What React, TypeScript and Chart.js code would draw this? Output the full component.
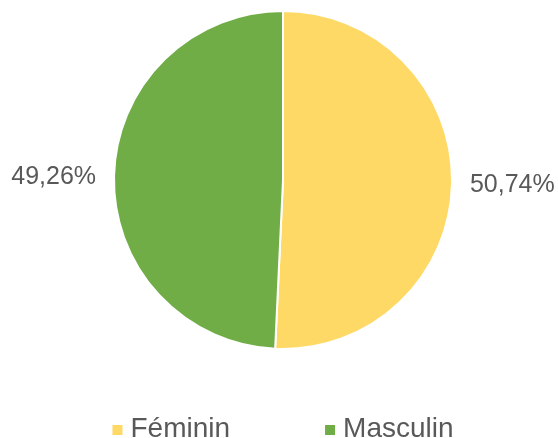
import React, { useEffect, useRef } from "react";
import { Chart, registerables } from "chart.js";

Chart.register(...registerables);

const categories = ["Féminin", "Masculin"];
const values = [50.74, 49.26];
const colors = ["#FFD966", "#70AD47"];

const TEXT_COLOR = "#595959";
const FONT = '"Liberation Sans", Arial, sans-serif';

const labelPlugin = {
  id: "outerLabels",
  afterDatasetsDraw(chart: any) {
    const ctx = chart.ctx;
    const meta = chart.getDatasetMeta(0);
    const data = chart.data.datasets[0].data as number[];
    ctx.save();
    ctx.font = `25px ${FONT}`;
    ctx.fillStyle = TEXT_COLOR;
    ctx.textBaseline = "middle";
    meta.data.forEach((arc: any, i: number) => {
      const p = arc.getProps(["x", "y", "startAngle", "endAngle", "outerRadius"], true);
      const mid = (p.startAngle + p.endAngle) / 2;
      const r = p.outerRadius + 18;
      const x = p.x + Math.cos(mid) * r;
      const y = p.y + Math.sin(mid) * r;
      ctx.textAlign = Math.cos(mid) >= 0 ? "left" : "right";
      const txt = data[i].toFixed(2).replace(".", ",") + "%";
      ctx.fillText(txt, x, y + 1);
    });
    ctx.restore();
  },
};

const legendPlugin = {
  id: "customLegend",
  afterDraw(chart: any) {
    const ctx = chart.ctx;
    const labels = chart.data.labels as string[];
    const bg = chart.data.datasets[0].backgroundColor as string[];
    const meta = chart.getDatasetMeta(0);
    const cx = meta.data[0] ? meta.data[0].x : chart.width / 2;
    ctx.save();
    ctx.font = `28px ${FONT}`;
    const box = 10;
    const boxGap = 8;
    const itemGap = 95;
    const widths = labels.map((l) => box + boxGap + ctx.measureText(l).width);
    const total = widths.reduce((a, b) => a + b, 0) + itemGap * (labels.length - 1);
    let x = cx - total / 2;
    const baseline = 437;
    labels.forEach((l, i) => {
      ctx.fillStyle = bg[i];
      ctx.fillRect(x, 425, box, box);
      ctx.fillStyle = TEXT_COLOR;
      ctx.textAlign = "left";
      ctx.textBaseline = "alphabetic";
      ctx.fillText(l, x + box + boxGap, baseline);
      x += widths[i] + itemGap;
    });
    ctx.restore();
  },
};

export default function App() {
  const ref = useRef<HTMLCanvasElement | null>(null);
  useEffect(() => {
    if (!ref.current) return;
    const chart = new Chart(ref.current, {
      type: "pie",
      data: {
        labels: categories,
        datasets: [
          {
            data: values,
            backgroundColor: colors,
            borderColor: "#FFFFFF",
            borderWidth: 2,
          },
        ],
      },
      options: {
        animation: false,
        responsive: true,
        maintainAspectRatio: false,
        events: [],
        layout: { padding: { top: 10, bottom: 88, left: 8, right: 0 } },
        plugins: {
          legend: { display: false },
          tooltip: { enabled: false },
        },
      },
      plugins: [labelPlugin, legendPlugin],
    });
    return () => chart.destroy();
  }, []);
  return (
    <div style={{ position: "fixed", left: 0, top: 0, width: 558, height: 438, background: "#fff" }}>
      <canvas ref={ref} />
    </div>
  );
}
